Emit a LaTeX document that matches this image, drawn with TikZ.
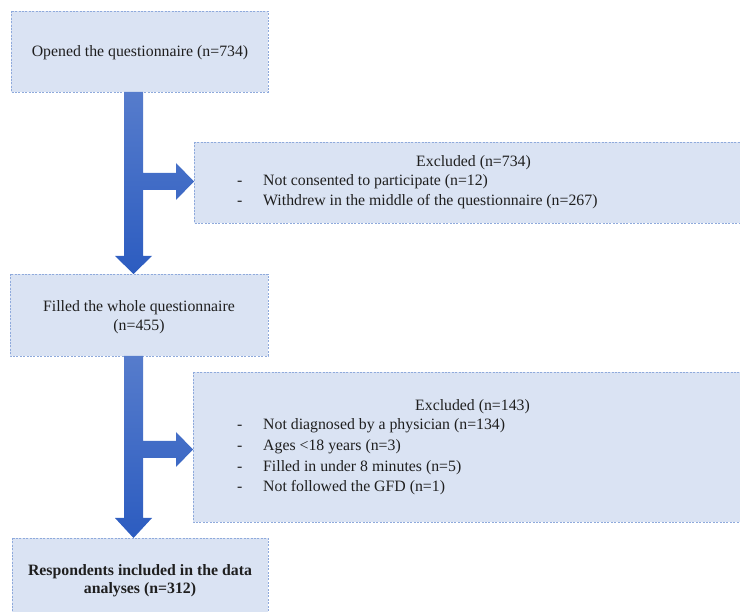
\documentclass[tikz,border=0pt]{standalone}
\usepackage{fontspec}
\setmainfont{Liberation Serif}
\definecolor{boxfill}{RGB}{218,227,243}
\definecolor{boxline}{RGB}{143,170,220}
\definecolor{arrtop}{RGB}{86,124,204}
\definecolor{arrbot}{RGB}{44,92,192}
\begin{document}
\begin{tikzpicture}[x=1pt,y=-1pt,
  flowbox/.style={draw=boxline,fill=boxfill,line width=0.9pt,dash pattern=on 2pt off 1.4pt},
  txt/.style={inner sep=0pt,font=\fontsize{15.8}{19}\selectfont,text=black!88},
  btxt/.style={txt,font=\fontsize{15.8}{19}\selectfont\bfseries},
  bigarrow/.style={top color=arrtop,bottom color=arrbot,draw=none}]
\useasboundingbox (0,0) rectangle (740,612);
\clip (0,0) rectangle (740,612);
% boxes
\draw[flowbox] (11,11) rectangle (268,92) node[pos=0.5,name=b1]{};
\draw[flowbox] (194,142) rectangle (748,223) node[pos=0.5,name=b2]{};
\draw[flowbox] (10,274) rectangle (268,356) node[pos=0.5,name=b3]{};
\draw[flowbox] (193,372) rectangle (748,522) node[pos=0.5,name=b4]{};
\draw[flowbox] (12,538) rectangle (268,625) node[pos=0.5,name=b5]{};
% texts
\node[txt,anchor=base] (t1) at (140,57) {Opened the questionnaire (n=734)};
\node[txt,anchor=base west] (t2a) at (416,167) {Excluded (n=734)};
\node[txt,anchor=base west] (t2b) at (237,186) {-};
\node[txt,anchor=base west] (t2c) at (263,186) {Not consented to participate (n=12)};
\node[txt,anchor=base west] (t2d) at (237,206) {-};
\node[txt,anchor=base west] (t2e) at (263,206) {Withdrew in the middle of the questionnaire (n=267)};
\node[txt,anchor=base] (t3a) at (139,312) {Filled the whole questionnaire};
\node[txt,anchor=base] (t3b) at (139,331) {(n=455)};
\node[txt,anchor=base west] (t4a) at (415,411) {Excluded (n=143)};
\node[txt,anchor=base west] (t4b) at (237,430) {-};
\node[txt,anchor=base west] (t4c) at (263,430) {Not diagnosed by a physician (n=134)};
\node[txt,anchor=base west] (t4d) at (237,451) {-};
\node[txt,anchor=base west] (t4e) at (263,451) {Ages <18 years (n=3)};
\node[txt,anchor=base west] (t4f) at (237,472) {-};
\node[txt,anchor=base west] (t4g) at (263,472) {Filled in under 8 minutes (n=5)};
\node[txt,anchor=base west] (t4h) at (237,492) {-};
\node[txt,anchor=base west] (t4i) at (263,492) {Not followed the GFD (n=1)};
\node[btxt,anchor=base] (t5a) at (140,576) {Respondents included in the data};
\node[btxt,anchor=base] (t5b) at (140,594) {analyses (n=312)};
% arrows
\shade[bigarrow] (124,92) -- (143,92) -- (143,173) -- (176,173) -- (176,163) -- (194,181.5)
  -- (176,200) -- (176,190) -- (143,190) -- (143,256) -- (152,256) -- (133.5,274)
  -- (115,256) -- (124,256) -- cycle;
\shade[bigarrow] (124,356) -- (143,356) -- (143,441) -- (176,441) -- (176,432) -- (193,449.5)
  -- (176,467) -- (176,458) -- (143,458) -- (143,518) -- (152,518) -- (133.5,538)
  -- (115,518) -- (124,518) -- cycle;
\end{tikzpicture}
\end{document}
